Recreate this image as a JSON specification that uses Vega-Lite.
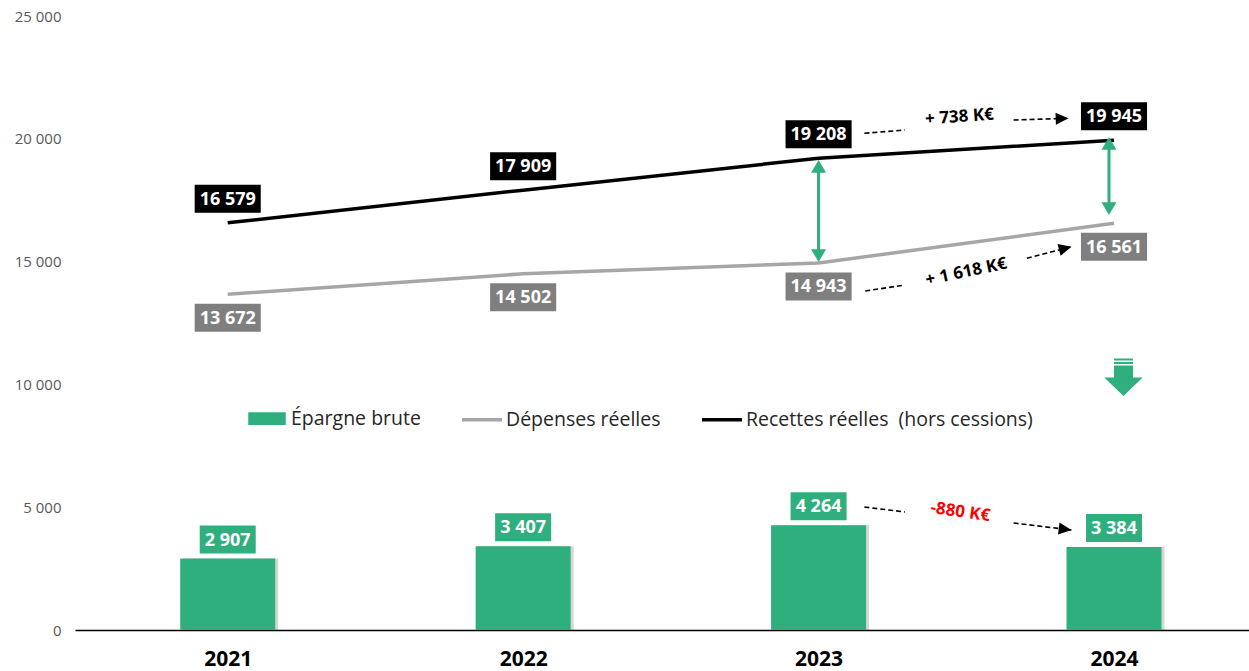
{
  "$schema": "https://vega.github.io/schema/vega-lite/v6.json",
  "width": 1174,
  "height": 614,
  "autosize": {"type": "none"},
  "padding": {"left": 75, "top": 16, "right": 0, "bottom": 41},
  "background": "#ffffff",
  "config": {
    "view": {"stroke": null},
    "font": "Open Sans",
    "locale": {"number": {"decimal": ",", "thousands": " ", "grouping": [3], "currency": ["", " €"]}}
  },
  "datasets": {
    "main": [
      {"year": 2021, "serie": "Épargne brute", "value": 2907},
      {"year": 2022, "serie": "Épargne brute", "value": 3407},
      {"year": 2023, "serie": "Épargne brute", "value": 4264},
      {"year": 2024, "serie": "Épargne brute", "value": 3384},
      {"year": 2021, "serie": "Dépenses réelles", "value": 13672},
      {"year": 2022, "serie": "Dépenses réelles", "value": 14502},
      {"year": 2023, "serie": "Dépenses réelles", "value": 14943},
      {"year": 2024, "serie": "Dépenses réelles", "value": 16561},
      {"year": 2021, "serie": "Recettes réelles\u00a0 (hors cessions)", "value": 16579},
      {"year": 2022, "serie": "Recettes réelles\u00a0 (hors cessions)", "value": 17909},
      {"year": 2023, "serie": "Recettes réelles\u00a0 (hors cessions)", "value": 19208},
      {"year": 2024, "serie": "Recettes réelles\u00a0 (hors cessions)", "value": 19945}
    ],
    "varrows": [
      {"year": 2023, "value": 19137, "value2": 14984, "sTop": 18730, "sBot": 15391},
      {"year": 2023.983, "value": 20073, "value2": 16897, "sTop": 19666, "sBot": 17304}
    ],
    "dashes": [
      {"grp": "rec", "year": 2023.155, "value": 20224, "year2": 2023.292, "value2": 20358},
      {"grp": "rec", "year": 2023.66, "value": 20765, "year2": 2023.846, "value2": 20834},
      {"grp": "dep", "year": 2023.158, "value": 13803, "year2": 2023.292, "value2": 14047},
      {"grp": "dep", "year": 2023.705, "value": 15134, "year2": 2023.856, "value2": 15607},
      {"grp": "ep", "year": 2023.155, "value": 5008, "year2": 2023.292, "value2": 4805},
      {"grp": "ep", "year": 2023.66, "value": 4357, "year2": 2023.856, "value2": 4072}
    ],
    "heads": [
      {"grp": "rec", "year": 2023.846, "value": 20834},
      {"grp": "dep", "year": 2023.856, "value": 15607},
      {"grp": "ep", "year": 2023.856, "value": 4072}
    ],
    "notes": [
      {"grp": "rec", "year": 2023.477, "value": 20888, "label": "+ 738 K€"},
      {"grp": "dep", "year": 2023.5, "value": 14577, "label": "+ 1 618 K€"},
      {"grp": "ep", "year": 2023.48, "value": 4805, "label": "-880 K€"}
    ],
    "down": [{"year": 2024.032, "value": 10281}]
  },
  "encoding": {
    "x": {
      "field": "year", "type": "quantitative",
      "scale": {"domain": [2020.5, 2024.44], "nice": false, "zero": false},
      "axis": {
        "values": [2021, 2022, 2023, 2024], "format": "d", "title": null,
        "grid": false, "ticks": false, "domain": true, "domainColor": "#000000", "domainWidth": 1.5,
        "labelFontSize": 21, "labelFontWeight": "bold", "labelColor": "#000000", "labelPadding": 18,
        "labelFont": "Open Sans"
      }
    },
    "y": {
      "field": "value", "type": "quantitative",
      "scale": {"domain": [0, 25000], "nice": false},
      "axis": {
        "values": [0, 5000, 10000, 15000, 20000, 25000], "format": ",d", "title": null,
        "grid": false, "ticks": false, "domain": false,
        "labelFontSize": 15, "labelColor": "#595959", "labelPadding": 14, "labelFont": "Open Sans"
      }
    }
  },
  "layer": [
    {
      "data": {"name": "main"},
      "transform": [{"filter": "datum.serie === 'Épargne brute'"}],
      "mark": {"type": "bar", "orient": "vertical", "width": 95, "color": "#000000", "opacity": 0.16, "xOffset": 3}
    },
    {
      "data": {"name": "main"},
      "transform": [{"filter": "datum.serie === 'Épargne brute'"}],
      "mark": {"type": "bar", "orient": "vertical", "width": 95},
      "encoding": {
        "color": {
          "field": "serie", "type": "nominal",
          "scale": {"domain": ["Épargne brute", "Dépenses réelles", "Recettes réelles\u00a0 (hors cessions)"], "range": ["#2EAF7D", "#A6A6A6", "#000000"]},
          "legend": {
            "orient": "none", "legendX": 170, "legendY": 380.5, "direction": "horizontal", "title": null,
            "padding": 0, "labelFontSize": 19.5, "labelFont": "Open Sans", "labelColor": "#262626", "labelLimit": 500,
            "symbolSize": 1600, "columnPadding": 34, "labelOffset": 2,
            "encode": {
              "symbols": {
                "update": {
                  "shape": {"signal": "datum.value === 'Épargne brute' ? 'M-0.85,-0.23H0.85V0.23H-0.85Z' : 'M-1,0H1'"},
                  "fill": {"signal": "datum.value === 'Épargne brute' ? '#2EAF7D' : 'transparent'"},
                  "stroke": {"signal": "datum.value === 'Épargne brute' ? 'transparent' : (datum.value === 'Dépenses réelles' ? '#A6A6A6' : '#000000')"},
                  "strokeWidth": {"value": 3.5},
                  "opacity": {"value": 1}
                }
              }
            }
          }
        }
      }
    },
    {
      "data": {"name": "main"},
      "transform": [{"filter": "datum.serie !== 'Épargne brute'"}],
      "mark": {"type": "line", "strokeWidth": 3.5},
      "encoding": {
        "color": {
          "field": "serie", "type": "nominal",
          "scale": {"domain": ["Épargne brute", "Dépenses réelles", "Recettes réelles\u00a0 (hors cessions)"], "range": ["#2EAF7D", "#A6A6A6", "#000000"]},
          "legend": {
            "orient": "none", "legendX": 170, "legendY": 380.5, "direction": "horizontal", "title": null,
            "padding": 0, "labelFontSize": 19.5, "labelFont": "Open Sans", "labelColor": "#262626", "labelLimit": 500,
            "symbolSize": 1600, "columnPadding": 34, "labelOffset": 2,
            "encode": {
              "symbols": {
                "update": {
                  "shape": {"signal": "datum.value === 'Épargne brute' ? 'M-0.85,-0.23H0.85V0.23H-0.85Z' : 'M-1,0H1'"},
                  "fill": {"signal": "datum.value === 'Épargne brute' ? '#2EAF7D' : 'transparent'"},
                  "stroke": {"signal": "datum.value === 'Épargne brute' ? 'transparent' : (datum.value === 'Dépenses réelles' ? '#A6A6A6' : '#000000')"},
                  "strokeWidth": {"value": 3.5},
                  "opacity": {"value": 1}
                }
              }
            }
          }
        }
      }
    },
    {
      "data": {"name": "varrows"},
      "mark": {"type": "rule", "color": "#2EAF7D", "strokeWidth": 3},
      "encoding": {"y": {"field": "sTop", "type": "quantitative"}, "y2": {"field": "sBot"}}
    },
    {
      "data": {"name": "varrows"},
      "mark": {"type": "point", "filled": true, "opacity": 1, "color": "#2EAF7D", "strokeWidth": 0, "size": 256, "shape": "M0,0L0.94,1.6L-0.94,1.6Z"}
    },
    {
      "data": {"name": "varrows"},
      "mark": {"type": "point", "filled": true, "opacity": 1, "color": "#2EAF7D", "strokeWidth": 0, "size": 256, "shape": "M0,0L0.94,-1.6L-0.94,-1.6Z"},
      "encoding": {"y": {"field": "value2", "type": "quantitative"}}
    },
    {
      "data": {"name": "dashes"},
      "mark": {"type": "rule", "color": "#000000", "strokeWidth": 1.6, "strokeDash": [5, 3]},
      "encoding": {"x2": {"field": "year2"}, "y2": {"field": "value2"}}
    },
    {
      "data": {"name": "heads"},
      "transform": [{"filter": "datum.grp === 'rec'"}],
      "mark": {"type": "point", "filled": true, "opacity": 1, "color": "#000000", "strokeWidth": 0, "size": 256, "angle": 358, "shape": "M0,0L-1.6,-0.75L-1.6,0.75Z"}
    },
    {
      "data": {"name": "heads"},
      "transform": [{"filter": "datum.grp === 'dep'"}],
      "mark": {"type": "point", "filled": true, "opacity": 1, "color": "#000000", "strokeWidth": 0, "size": 256, "angle": 345.5, "shape": "M0,0L-1.6,-0.75L-1.6,0.75Z"}
    },
    {
      "data": {"name": "heads"},
      "transform": [{"filter": "datum.grp === 'ep'"}],
      "mark": {"type": "point", "filled": true, "opacity": 1, "color": "#000000", "strokeWidth": 0, "size": 256, "angle": 7, "shape": "M0,0L-1.6,-0.75L-1.6,0.75Z"}
    },
    {
      "data": {"name": "main"},
      "transform": [{"filter": "datum.serie === 'Épargne brute'"}],
      "mark": {"type": "point", "filled": true, "opacity": 1, "color": "#2EAF7D", "strokeWidth": 0, "size": 784, "yOffset": -19, "shape": "M-2,-1H2V1H-2Z"}
    },
    {
      "data": {"name": "main"},
      "transform": [{"filter": "datum.serie === 'Dépenses réelles'"}],
      "mark": {"type": "point", "filled": true, "opacity": 1, "color": "#7F7F7F", "strokeWidth": 0, "size": 784, "yOffset": 23.5, "shape": "M-2.36,-1H2.36V1H-2.36Z"}
    },
    {
      "data": {"name": "main"},
      "transform": [{"filter": "datum.serie !== 'Épargne brute' && datum.serie !== 'Dépenses réelles'"}],
      "mark": {"type": "point", "filled": true, "opacity": 1, "color": "#000000", "strokeWidth": 0, "size": 784, "yOffset": -24, "shape": "M-2.36,-1H2.36V1H-2.36Z"}
    },
    {
      "data": {"name": "main"},
      "transform": [{"filter": "datum.serie === 'Épargne brute'"}],
      "mark": {"type": "text", "color": "#ffffff", "fontSize": 18, "fontWeight": "bold", "font": "Open Sans", "yOffset": -18},
      "encoding": {"text": {"field": "value", "type": "quantitative", "format": ",d"}}
    },
    {
      "data": {"name": "main"},
      "transform": [{"filter": "datum.serie === 'Dépenses réelles'"}],
      "mark": {"type": "text", "color": "#ffffff", "fontSize": 18, "fontWeight": "bold", "font": "Open Sans", "yOffset": 24.5},
      "encoding": {"text": {"field": "value", "type": "quantitative", "format": ",d"}}
    },
    {
      "data": {"name": "main"},
      "transform": [{"filter": "datum.serie !== 'Épargne brute' && datum.serie !== 'Dépenses réelles'"}],
      "mark": {"type": "text", "color": "#ffffff", "fontSize": 18, "fontWeight": "bold", "font": "Open Sans", "yOffset": -23},
      "encoding": {"text": {"field": "value", "type": "quantitative", "format": ",d"}}
    },
    {
      "data": {"name": "notes"},
      "transform": [{"filter": "datum.grp === 'rec'"}],
      "mark": {"type": "text", "color": "#000000", "fontSize": 17, "fontWeight": "bold", "font": "Open Sans", "angle": 356},
      "encoding": {"text": {"field": "label"}}
    },
    {
      "data": {"name": "notes"},
      "transform": [{"filter": "datum.grp === 'dep'"}],
      "mark": {"type": "text", "color": "#000000", "fontSize": 17, "fontWeight": "bold", "font": "Open Sans", "angle": 348},
      "encoding": {"text": {"field": "label"}}
    },
    {
      "data": {"name": "notes"},
      "transform": [{"filter": "datum.grp === 'ep'"}],
      "mark": {"type": "text", "color": "#FF0000", "fontSize": 17, "fontWeight": "bold", "font": "Open Sans", "angle": 8},
      "encoding": {"text": {"field": "label"}}
    },
    {
      "data": {"name": "down"},
      "mark": {"type": "point", "filled": true, "opacity": 1, "color": "#2EAF7D", "strokeWidth": 0, "size": 400,
        "shape": "M-0.95,-1.9H0.95V-1.7H-0.95Z M-0.95,-1.55H0.95V-1.35H-0.95Z M-0.95,-1.2H0.95V0H1.92L0,1.85L-1.92,0H-0.95Z"}
    }
  ]
}
